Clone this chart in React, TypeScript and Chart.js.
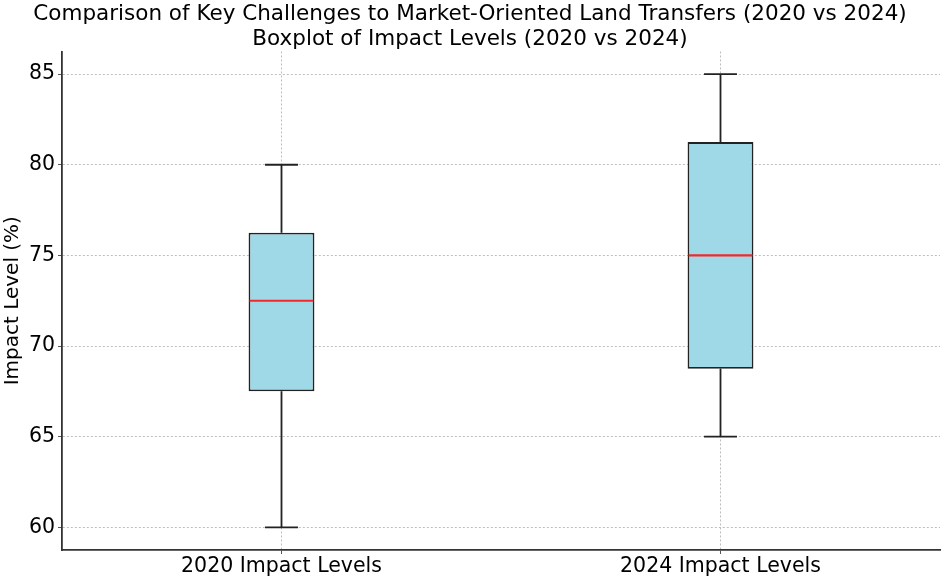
import React, { useEffect, useRef } from "react";
import { Chart, registerables } from "chart.js";

Chart.register(...registerables);

const categories = ["2020 Impact Levels", "2024 Impact Levels"];
const whiskerLow = [60, 65];
const q1 = [67.5, 68.75];
const median = [72.5, 75];
const q3 = [76.25, 81.25];
const whiskerHigh = [80, 85];
const yTicks = [60, 65, 70, 75, 80, 85];
const titleLines = [
  "Comparison of Key Challenges to Market-Oriented Land Transfers (2020 vs 2024)",
  "Boxplot of Impact Levels (2020 vs 2024)",
];

const FONT = "'DejaVu Sans', 'Liberation Sans', sans-serif";

const boxPlugin = {
  id: "boxWhiskers",
  afterDatasetsDraw(chart: any) {
    const ctx = chart.ctx;
    const xs = chart.scales.x;
    const ys = chart.scales.y;
    const meta = chart.getDatasetMeta(0);
    ctx.save();
    categories.forEach((_, i) => {
      const el = meta.data[i];
      const x = xs.getPixelForValue(i);
      const w = el ? el.width : 60;
      const yLo = ys.getPixelForValue(whiskerLow[i]);
      const yQ1 = ys.getPixelForValue(q1[i]);
      const yQ3 = ys.getPixelForValue(q3[i]);
      const yHi = ys.getPixelForValue(whiskerHigh[i]);
      const yMed = ys.getPixelForValue(median[i]);
      ctx.strokeStyle = "#222";
      ctx.lineWidth = 1.8;
      ctx.beginPath();
      ctx.moveTo(x, yLo);
      ctx.lineTo(x, yQ1);
      ctx.moveTo(x, yQ3);
      ctx.lineTo(x, yHi);
      ctx.moveTo(x - w / 4, yLo);
      ctx.lineTo(x + w / 4, yLo);
      ctx.moveTo(x - w / 4, yHi);
      ctx.lineTo(x + w / 4, yHi);
      ctx.stroke();
      ctx.strokeStyle = "#f52828";
      ctx.lineWidth = 2.2;
      ctx.beginPath();
      ctx.moveTo(x - w / 2 + 1, yMed);
      ctx.lineTo(x + w / 2 - 1, yMed);
      ctx.stroke();
    });
    ctx.restore();
  },
};

export default function App() {
  const ref = useRef<HTMLCanvasElement | null>(null);
  useEffect(() => {
    document.body.style.margin = "0";
    if (!ref.current) return;
    const chart = new Chart(ref.current, {
      type: "bar",
      data: {
        labels: categories,
        datasets: [
          {
            label: "Box",
            data: categories.map((_, i) => [q1[i], q3[i]] as any),
            backgroundColor: "#9fd8e6",
            borderColor: "#222",
            borderWidth: 1.8,
            borderSkipped: false,
            barPercentage: 0.15,
            categoryPercentage: 1,
          },
        ],
      },
      options: {
        animation: false,
        responsive: true,
        maintainAspectRatio: false,
        layout: { padding: { left: 0, right: 8, top: 0, bottom: 0 } },
        plugins: {
          legend: { display: false },
          tooltip: { enabled: false },
          title: {
            display: true,
            text: titleLines,
            color: "#000",
            font: { family: FONT, size: 21.5, weight: "normal", lineHeight: 1.15 },
            padding: { top: 2, bottom: 0 },
          },
        },
        scales: {
          x: {
            type: "category",
            offset: true,
            grid: {
              offset: false,
              color: "#bdbdbd",
              lineWidth: 1,
              tickColor: "#555",
              tickLength: 4,
              drawTicks: true,
            },
            border: { display: true, color: "#333", width: 1.8, dash: [2, 2] as any },
            ticks: {
              color: "#000",
              font: { family: FONT, size: 20.5 },
              padding: 0,
            },
            afterFit(scale: any) {
              scale.height = 28;
            },
          },
          y: {
            type: "linear",
            min: 58.75,
            max: 86.25,
            grid: {
              color: "#bdbdbd",
              lineWidth: 1,
              tickColor: "#555",
              tickLength: 4,
            },
            border: { display: true, color: "#333", width: 1.8, dash: [2, 2] as any },
            ticks: {
              color: "#000",
              font: { family: FONT, size: 20.5 },
              padding: 3,
            },
            afterBuildTicks(scale: any) {
              scale.ticks = yTicks.map((v) => ({ value: v }));
            },
            afterFit(scale: any) {
              scale.width = 62;
            },
            title: {
              display: true,
              text: "Impact Level (%)",
              color: "#000",
              font: { family: FONT, size: 20 },
              padding: { top: 1, bottom: 0 },
            },
          },
        },
      },
      plugins: [boxPlugin],
    } as any);
    return () => chart.destroy();
  }, []);
  return (
    <div style={{ width: 948, height: 578, position: "relative" }}>
      <canvas ref={ref} />
    </div>
  );
}
